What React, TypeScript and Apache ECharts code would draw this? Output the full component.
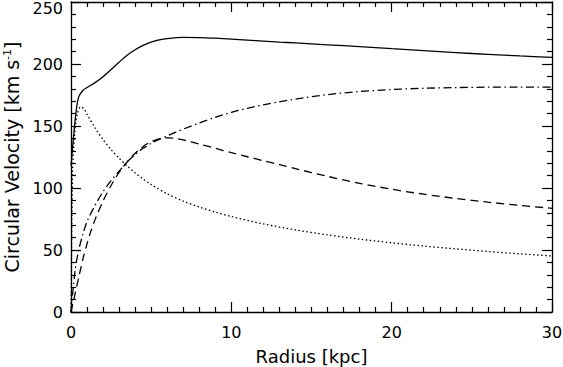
import React, { useEffect, useRef } from "react";
import * as echarts from "echarts";

// Radius [kpc] and circular velocity [km/s]
const totalR = [0, 0.1, 0.2, 0.3, 0.4, 0.5, 0.75, 1, 1.5, 2, 2.5, 3, 3.5, 4, 4.5, 5, 5.5, 6, 7, 8, 9, 10, 11, 12, 13, 14, 16, 18, 20, 22, 24, 26, 28, 30];
const totalV = [118, 133, 147, 160, 169, 174, 178.8, 181, 185, 189.8, 195.5, 201.5, 207, 211.5, 215, 217.6, 219.4, 220.5, 221.4, 221.3, 220.8, 220.1, 219.3, 218.5, 217.7, 217, 215.5, 214, 212.4, 210.8, 209.2, 207.8, 206.5, 205.3];

const bulgeR = [0, 0.1, 0.25, 0.4, 0.6, 0.8, 1, 1.5, 2, 2.5, 3, 3.5, 4, 4.5, 5, 6, 7, 8, 9, 10, 12, 14, 16, 18, 20, 22, 24, 26, 28, 30];
const bulgeV = [0, 115, 147, 160, 165.5, 164, 159.5, 148.5, 139, 131, 124, 117.8, 112.2, 107.2, 102.8, 95.3, 89.4, 84.6, 80.5, 77, 71, 66.2, 62.2, 58.8, 55.8, 53.2, 50.9, 48.8, 46.9, 45.2];

const diskR = [0, 0.25, 0.5, 0.75, 1, 1.25, 1.5, 2, 2.5, 3, 3.5, 4, 4.5, 5, 5.5, 6, 6.5, 7, 8, 9, 10, 11, 12, 13, 14, 16, 18, 20, 22, 24, 26, 28, 30];
const diskV = [0, 14.5, 29, 43, 55, 65.5, 74.5, 89.5, 102, 112.5, 121, 128, 133.5, 137.3, 139.6, 140.5, 140, 138.8, 135.5, 132, 128.5, 125.2, 122, 118.8, 115.6, 109.4, 103.8, 99, 95, 91.6, 88.6, 86, 83.6];

const haloR = [0, 0.25, 0.5, 0.75, 1, 1.5, 2, 2.5, 3, 3.5, 4, 4.5, 5, 5.5, 6, 6.5, 7, 8, 9, 10, 11, 12, 13, 14, 16, 18, 20, 22, 24, 26, 28, 30];
const haloV = [0, 33, 51, 63, 73, 86, 97, 106, 113.5, 121, 127, 132, 136, 139.2, 142, 144.8, 147.5, 152.4, 157, 161, 164.3, 167.1, 169.5, 171.7, 175.3, 177.8, 179.4, 180.4, 181, 181.3, 181.4, 181.3];

const xTicks = [0, 10, 20, 30];
const yTicks = [0, 50, 100, 150, 200, 250];

const pairs = (xs: number[], ys: number[]) => xs.map((x, i) => [x, ys[i]]);

export default function App() {
  const ref = useRef<HTMLDivElement>(null);
  useEffect(() => {
    if (!ref.current) return;
    const chart = echarts.init(ref.current, null, { renderer: "svg" });
    const font = "DejaVu Sans";
    const axisCommon = {
      axisLine: { show: true, onZero: false, lineStyle: { color: "#000", width: 1.3 } },
      axisTick: { show: true, inside: true, length: 10, lineStyle: { color: "#000", width: 1.2 } },
      splitLine: { show: false },
    };
    const lineSeries = (name: string, data: number[][], type: any) => ({
      name,
      type: "line",
      data,
      showSymbol: false,
      symbol: "none",
      smooth: 0.3,
      lineStyle: { color: "#000", width: 1.3, type },
      xAxisIndex: 0,
      yAxisIndex: 0,
    });
    chart.setOption({
      animation: false,
      backgroundColor: "#fff",
      grid: { left: 71, right: 11, top: 2, bottom: 55, containLabel: false, outerBoundsMode: "none" },
      xAxis: [
        {
          type: "value",
          position: "bottom",
          min: xTicks[0],
          max: xTicks[xTicks.length - 1],
          interval: 10,
          ...axisCommon,
          minorTick: { show: true, splitNumber: 10, length: 5, lineStyle: { color: "#000", width: 1.2 } },
          axisLabel: { color: "#000", fontFamily: font, fontSize: 16, margin: 12 },
          name: "Radius [kpc]",
          nameLocation: "middle",
          nameGap: 35,
          nameTextStyle: { color: "#000", fontFamily: font, fontSize: 18 },
        },
        {
          type: "value",
          position: "top",
          min: xTicks[0],
          max: xTicks[xTicks.length - 1],
          interval: 10,
          ...axisCommon,
          minorTick: { show: true, splitNumber: 10, length: 5, lineStyle: { color: "#000", width: 1.2 } },
          axisLabel: { show: false },
        },
      ],
      yAxis: [
        {
          type: "value",
          position: "left",
          min: yTicks[0],
          max: yTicks[yTicks.length - 1],
          interval: 50,
          ...axisCommon,
          minorTick: { show: true, splitNumber: 5, length: 5, lineStyle: { color: "#000", width: 1.2 } },
          axisLabel: {
            color: "#000",
            fontFamily: font,
            fontSize: 16,
            margin: 8,
            formatter: (v: number) => (v === 250 ? "{t|250}" : String(v)),
            rich: { t: { fontFamily: font, fontSize: 16, color: "#000", padding: [12, 0, 0, 0] } },
          },
          name: "{a|Circular Velocity [km s}{s|-1}{a|]}",
          nameLocation: "middle",
          nameGap: 48,
          nameRotate: 90,
          nameTextStyle: {
            color: "#000",
            fontFamily: font,
            fontSize: 19,
            rich: {
              a: { fontFamily: font, fontSize: 19, color: "#000", lineHeight: 20 },
              s: { fontFamily: font, fontSize: 11, color: "#000", verticalAlign: "top", lineHeight: 20 },
            },
          },
        },
        {
          type: "value",
          position: "right",
          min: yTicks[0],
          max: yTicks[yTicks.length - 1],
          interval: 50,
          ...axisCommon,
          minorTick: { show: true, splitNumber: 5, length: 5, lineStyle: { color: "#000", width: 1.2 } },
          axisLabel: { show: false },
        },
      ],
      series: [
        lineSeries("Total", pairs(totalR, totalV), "solid"),
        lineSeries("Bulge", pairs(bulgeR, bulgeV), [1.5, 2.5]),
        lineSeries("Disk", pairs(diskR, diskV), [8, 5]),
        lineSeries("Halo", pairs(haloR, haloV), [8, 3.5, 1.5, 3.5]),
      ],
    });
    return () => chart.dispose();
  }, []);
  return <div ref={ref} style={{ width: 563, height: 367, position: "absolute", left: 0, top: 0 }} />;
}
